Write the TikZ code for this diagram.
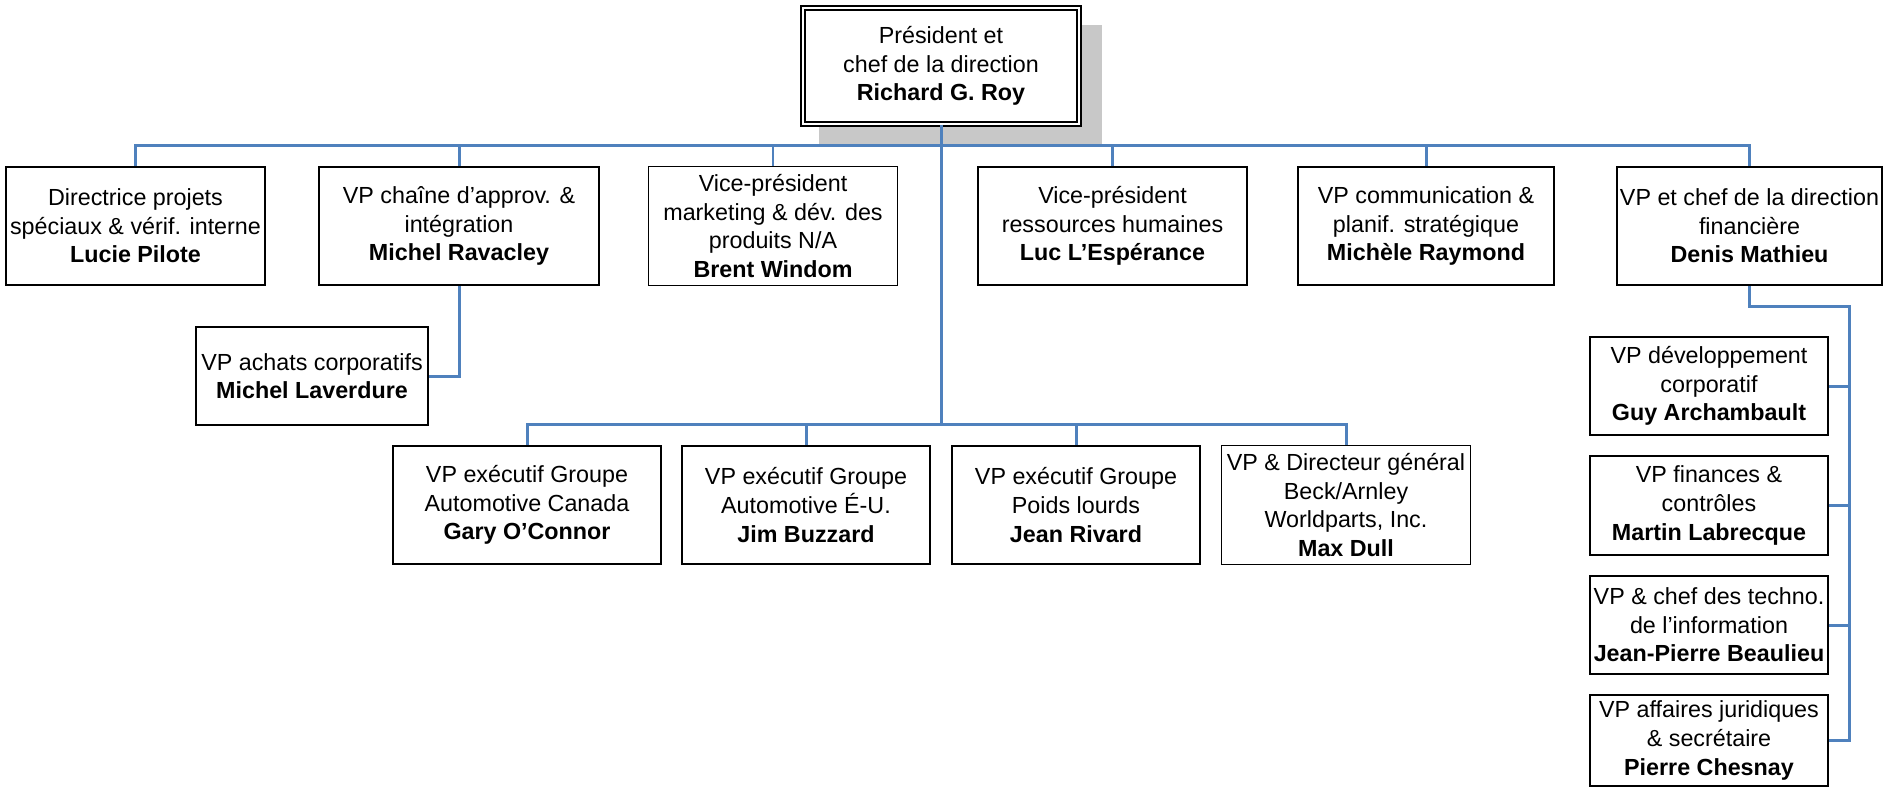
\documentclass[tikz,border=0pt]{standalone}
\usepackage{fontspec}
\setmainfont{Liberation Sans}
\definecolor{conn}{RGB}{79,129,189}
\definecolor{shade}{RGB}{200,200,200}
\begin{document}
\begin{tikzpicture}[x=1pt,y=-1pt,
  box/.style={draw=black, line width=2.6pt, fill=white, inner sep=0pt, align=center,
    font=\fontsize{23.3}{28.6}\selectfont},
  thinbox/.style={box, line width=1.4pt},
  link/.style={draw=conn, line width=3pt},
  thinlink/.style={draw=conn, line width=1.6pt}]
\useasboundingbox (0,0) rectangle (1893,789);

% shadow of the president box
\node[fill=shade, inner sep=0pt, minimum width=283pt, minimum height=121pt] (shadow) at (960.5,85.5) {};

% president
\node[box, line width=2.2pt, double=white, double distance=2pt, minimum width=276pt, minimum height=116pt] (pres) at (941,66)
  {Président et\\chef de la direction\\\textbf{Richard G. Roy}};

% first row
\node[box, minimum width=259pt, minimum height=118pt] (lucie) at (135.5,226)
  {Directrice projets\\spéciaux \& vérif. interne\\\textbf{Lucie Pilote}};
\node[box, minimum width=280pt, minimum height=118pt] (rav) at (459,226)
  {VP chaîne d’approv. \&\\intégration\\\textbf{Michel Ravacley}};
\node[thinbox, minimum width=249pt, minimum height=119pt] (brent) at (773,226)
  {Vice-président\\marketing \& dév. des\\produits N/A\\\textbf{Brent Windom}};
\node[box, minimum width=269pt, minimum height=118pt] (luc) at (1112.5,226)
  {Vice-président\\ressources humaines\\\textbf{Luc L’Espérance}};
\node[box, minimum width=256pt, minimum height=118pt] (ray) at (1426,226)
  {VP communication \&\\planif. stratégique\\\textbf{Michèle Raymond}};
\node[box, minimum width=265pt, minimum height=118pt] (denis) at (1749.5,226)
  {VP et chef de la direction\\financière\\\textbf{Denis Mathieu}};

% under Ravacley
\node[box, minimum width=232pt, minimum height=98pt] (laver) at (312,376)
  {VP achats corporatifs\\\textbf{Michel Laverdure}};

% second row
\node[box, minimum width=268pt, minimum height=118pt] (gary) at (527,505)
  {VP exécutif Groupe\\Automotive Canada\\\textbf{Gary O’Connor}};
\node[box, minimum width=248pt, minimum height=118pt] (jim) at (806,505)
  {VP exécutif Groupe\\Automotive É-U.\\\textbf{Jim Buzzard}};
\node[box, minimum width=248pt, minimum height=118pt] (rivard) at (1076,505)
  {VP exécutif Groupe\\Poids lourds\\\textbf{Jean Rivard}};
\node[thinbox, minimum width=249pt, minimum height=119pt] (max) at (1346,505)
  {VP \& Directeur général\\Beck/Arnley\\Worldparts, Inc.\\\textbf{Max Dull}};

% under Denis
\node[box, minimum width=238pt, minimum height=98pt] (guy) at (1709,386)
  {VP développement\\corporatif\\\textbf{Guy Archambault}};
\node[box, minimum width=238pt, minimum height=99pt] (martin) at (1709,505.5)
  {VP finances \&\\contrôles\\\textbf{Martin Labrecque}};
\node[box, minimum width=238pt, minimum height=98pt] (jp) at (1709,625)
  {VP \& chef des techno.\\de l’information\\\textbf{Jean-Pierre Beaulieu}};
\node[box, minimum width=238pt, minimum height=91pt] (pierre) at (1709,740.5)
  {VP affaires juridiques\\\& secrétaire\\\textbf{Pierre Chesnay}};

% connectors
\coordinate (lb) at (0,425);
\coordinate (rail) at (1849,306);

\draw[link] (pres.south) -- (pres.south |- lb);
\draw[link] (lucie.north) -- ++(0,-20) -| (denis.north);
\draw[link] (rav.north) -- ++(0,-20);
\draw[thinlink] (brent.north) -- ++(0,-20);
\draw[link] (luc.north) -- ++(0,-20);
\draw[link] (ray.north) -- ++(0,-20);

\draw[link] (rav.south) |- (laver.east);

\draw[link] (gary.north) -- ++(0,-20) -| (max.north);
\draw[link] (jim.north) -- ++(0,-20);
\draw[link] (rivard.north) -- ++(0,-20);

\draw[link] (denis.south) |- (rail) -- (rail |- pierre.east) -- (pierre.east);
\draw[link] (guy.east) -- (guy.east -| rail);
\draw[link] (martin.east) -- (martin.east -| rail);
\draw[link] (jp.east) -- (jp.east -| rail);
\end{tikzpicture}
\end{document}
